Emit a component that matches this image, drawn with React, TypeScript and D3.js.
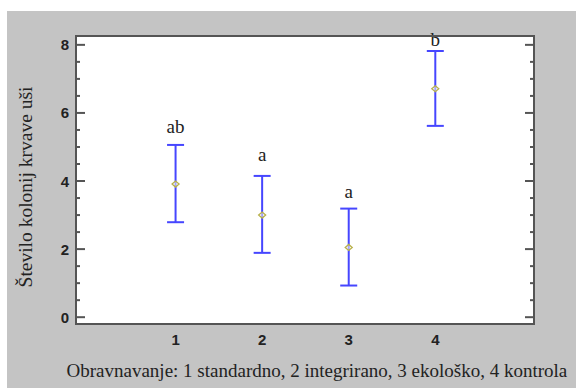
import React from "react";
import * as d3 from "d3";

const treatments = [1, 2, 3, 4];
const means = [3.91, 3.0, 2.05, 6.71];
const upper = [5.06, 4.15, 3.19, 7.82];
const lower = [2.79, 1.89, 0.93, 5.62];
const groupLetters = ["ab", "a", "a", "b"];
const letterY = [5.41, 4.6, 3.51, 7.98];
const yMajorTicks = [0, 2, 4, 6, 8];
const yMinorTicks = d3.range(0, 8.01, 0.5).filter((v) => v % 2 !== 0);
const xTickLabels = ["1", "2", "3", "4"];
const yTitle = "Število kolonij krvave uši";
const xTitle = "Obravnavanje: 1 standardno, 2 integrirano, 3 ekološko, 4 kontrola";

const W = 576;
const H = 391;
const L = 76, R = 534, T = 36, B = 324;

export default function App() {
  const x = d3.scaleLinear().domain([-0.15, 5.14]).range([L, R]);
  const y = d3.scaleLinear().domain([-0.2, 8.26]).range([B, T]);
  const axisColor = "#555";
  const blue = "#4646ff";
  const serif = "'Liberation Serif', 'Times New Roman', serif";
  const sans = "'Liberation Sans', Arial, sans-serif";
  const cap = 8.5;

  return (
    <svg
      width={W}
      height={H}
      style={{ position: "absolute", left: 0, top: 0, display: "block" }}
    >
      <rect x={0} y={0} width={W} height={H} fill="#fff" />
      <rect x={7} y={11} width={W - 7} height={377} fill="#c4c4c4" />
      <rect x={L} y={T} width={R - L} height={B - T} fill="#fff" />

      {yMajorTicks.map((v) => (
        <g key={"M" + v}>
          <line x1={L} x2={L + 9} y1={y(v)} y2={y(v)} stroke={axisColor} strokeWidth={2} />
          <line x1={R} x2={R - 9} y1={y(v)} y2={y(v)} stroke={axisColor} strokeWidth={2} />
          <text
            x={69}
            y={y(v) + 5.5}
            textAnchor="end"
            fontFamily={sans}
            fontWeight="bold"
            fontSize={15}
            fill="#222"
          >
            {v}
          </text>
        </g>
      ))}
      {yMinorTicks.map((v) => (
        <g key={"m" + v}>
          <line x1={L} x2={L + 4} y1={y(v)} y2={y(v)} stroke={axisColor} strokeWidth={2} />
          <line x1={R} x2={R - 4} y1={y(v)} y2={y(v)} stroke={axisColor} strokeWidth={2} />
        </g>
      ))}

      {treatments.map((t, i) => (
        <text
          key={"xt" + t}
          x={x(t)}
          y={345}
          textAnchor="middle"
          fontFamily={sans}
          fontWeight="bold"
          fontSize={15}
          fill="#222"
        >
          {xTickLabels[i]}
        </text>
      ))}

      {treatments.map((t, i) => {
        const cx = x(t);
        const m = y(means[i]);
        return (
          <g key={"eb" + t}>
            <line x1={cx} x2={cx} y1={y(upper[i])} y2={y(lower[i])} stroke={blue} strokeWidth={2} />
            <line x1={cx - cap} x2={cx + cap} y1={y(upper[i])} y2={y(upper[i])} stroke={blue} strokeWidth={2} />
            <line x1={cx - cap} x2={cx + cap} y1={y(lower[i])} y2={y(lower[i])} stroke={blue} strokeWidth={2} />
            <path
              d={`M${cx - 3.5},${m} L${cx},${m - 3} L${cx + 3.5},${m} L${cx},${m + 3} Z`}
              fill="#fff"
              fillOpacity={0.5}
              stroke="#b8b04a"
              strokeWidth={1.3}
            />
            <text
              x={cx}
              y={y(letterY[i])}
              textAnchor="middle"
              fontFamily={serif}
              fontSize={19}
              fill="#222"
            >
              {groupLetters[i]}
            </text>
          </g>
        );
      })}

      <rect x={L} y={T} width={R - L} height={B - T} fill="none" stroke={axisColor} strokeWidth={2} />

      <text
        transform={`translate(32, ${(T + B) / 2 + 7}) rotate(-90)`}
        textAnchor="middle"
        fontFamily={serif}
        fontSize={19.5}
        fill="#222"
      >
        {yTitle}
      </text>
      <text x={66.5} y={377} fontFamily={serif} fontSize={19} fill="#222">
        {xTitle}
      </text>
    </svg>
  );
}
